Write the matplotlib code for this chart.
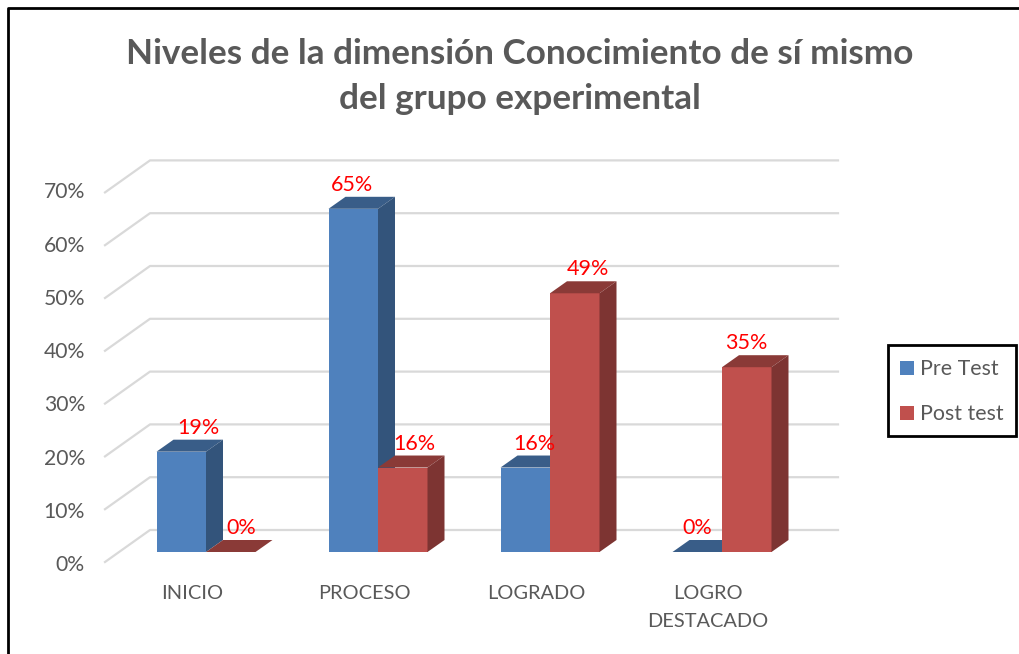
import matplotlib
matplotlib.use('Agg')
import matplotlib.pyplot as plt
from matplotlib.patches import Polygon, Rectangle

categories = ['INICIO', 'PROCESO', 'LOGRADO', 'LOGRO\nDESTACADO']
pre_test = [19, 65, 16, 0]
post_test = [0, 16, 49, 35]
ticks = [0, 10, 20, 30, 40, 50, 60, 70]

# label nudges in pixels, the labels were moved by hand in the original
pre_label_dx = [-8, -26, -16, -25]
post_label_dx = [35, 36, 38, 24]

W, H = 1019, 654
PX_PER_PCT = 5.28
BASE_PX = 552
CAT_PX = 172
FIRST_PX = 206


def darken(col, f):
    return tuple(c * f for c in matplotlib.colors.to_rgb(col))


def bar3d(ax, x, val, color):
    # depth of the fake 3d bar, in data units
    dx, dy = 17 / CAT_PX, 12 / PX_PER_PCT
    w = 49.5 / CAT_PX
    ax.bar(x, val, width=w, align='edge', color=color, zorder=3)
    ax.add_patch(Polygon([(x, val), (x + w, val), (x + w + dx, val + dy), (x + dx, val + dy)],
                         color=darken(color, 0.72), lw=0, zorder=3))
    ax.add_patch(Polygon([(x + w, 0), (x + w + dx, dy), (x + w + dx, val + dy), (x + w, val)],
                         color=darken(color, 0.65), lw=0, zorder=3))


plt.rcParams['font.family'] = ['Lato', 'DejaVu Sans']
fig = plt.figure(figsize=(W / 100, H / 100), dpi=100)
ax = fig.add_axes([0, 0, 1, 1])
ax.set_xlim(-FIRST_PX / CAT_PX, (W - FIRST_PX) / CAT_PX)
ax.set_ylim((BASE_PX - H) / PX_PER_PCT, BASE_PX / PX_PER_PCT)
ax.axis('off')


def px(x, y):
    return (x - FIRST_PX) / CAT_PX, (BASE_PX - y) / PX_PER_PCT


# outer border
ax.plot(*zip(px(8, 654), px(8, 8), px(1019, 8)), color='black', lw=2, zorder=1)

# gridlines on the back wall with the diagonal on the side
wall_x0, wall_x1, wall_x2 = px(105, 0)[0], px(150, 0)[0], px(838, 0)[0]
for t in ticks:
    y0 = t - 10 / PX_PER_PCT
    y1 = t + 22 / PX_PER_PCT
    ax.plot([wall_x0, wall_x1, wall_x2], [y0, y1, y1], color='#d9d9d9', lw=1.6, zorder=1)
    ax.text(px(85, 0)[0], y0 + (t / 70 * 3 - 3) / PX_PER_PCT, f'{t}%', ha='right', va='center',
            fontsize=15.2, color='#595959')

for i, cat in enumerate(categories):
    bar3d(ax, i - 49.5 / CAT_PX, pre_test[i], '#4f81bd')
    bar3d(ax, i, post_test[i], '#c0504d')
    ax.text(i - 14 / CAT_PX, -6.2, cat, ha='center', va='top', fontsize=14.4,
            color='#595959', linespacing=1.8)
    ax.text(i + pre_label_dx[i] / CAT_PX, pre_test[i] + 24 / PX_PER_PCT, f'{pre_test[i]}%',
            ha='center', va='center', fontsize=15.5, color='#ff0000', zorder=5)
    ax.text(i + post_label_dx[i] / CAT_PX, post_test[i] + 24 / PX_PER_PCT, f'{post_test[i]}%',
            ha='center', va='center', fontsize=15.5, color='#ff0000', zorder=5)

ax.text(*px(520, 76.5), 'Niveles de la dimensión Conocimiento de sí mismo\ndel grupo experimental',
        ha='center', va='center', fontsize=25.3, fontweight='bold', color='#595959', linespacing=1.5)

# legend box
ax.add_patch(Rectangle(px(888, 436), 128 / CAT_PX, 91 / PX_PER_PCT, fc='white', ec='black', lw=2, zorder=4))
for y, lab, col in [(369, 'Pre Test', '#4f81bd'), (414, 'Post test', '#c0504d')]:
    ax.add_patch(Rectangle(px(900, y + 6), 14 / CAT_PX, 14 / PX_PER_PCT, fc=col, lw=0, zorder=5))
    ax.text(*px(920, y), lab, ha='left', va='center', fontsize=15.4, color='#595959', zorder=5)

fig.savefig('out.png', dpi=100)
